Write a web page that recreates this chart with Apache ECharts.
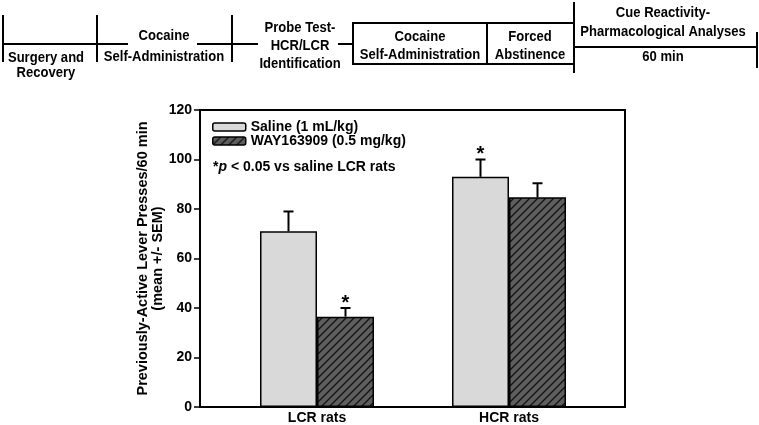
<!DOCTYPE html>
<html>
<head>
<meta charset="utf-8">
<script src="https://cdn.jsdelivr.net/npm/echarts@6/dist/echarts.min.js"></script>
<style>
  html, body { margin: 0; padding: 0; background: #fff; }
  #main { width: 759px; height: 425px; }
</style>
</head>
<body>
<div id="main"></div>
<script>
const groups = ['LCR rats', 'HCR rats']
const seriesNames = ['Saline (1 mL/kg)', 'WAY163909 (0.5 mg/kg)']
const salineMean = [71, 93]
const salineSem = [8, 7]
const wayMean = [36.5, 84.7]
const waySem = [3.5, 5.7]
// 1 = marked with * (p < 0.05 vs saline LCR)
const salineSig = [0, 1]
const waySig = [1, 0]
const yTicks = { min: 0, max: 120, interval: 20 }

const font = 'Liberation Sans, Arial, sans-serif'
const barW = 57

// hatch fill for the WAY bars
function hatch() {
  const c = document.createElement('canvas')
  c.width = 8
  c.height = 8
  const ctx = c.getContext('2d')
  ctx.fillStyle = '#5e5e5e'
  ctx.fillRect(0, 0, 8, 8)
  ctx.strokeStyle = '#151515'
  ctx.lineWidth = 1.4
  ctx.beginPath()
  ctx.moveTo(-1, 9); ctx.lineTo(9, -1)
  ctx.moveTo(-1, 1); ctx.lineTo(1, -1)
  ctx.moveTo(7, 9); ctx.lineTo(9, 7)
  ctx.stroke()
  return c
}

function errorSeries(mean, sem, sig, offset) {
  return {
    type: 'custom',
    xAxisIndex: 1,
    yAxisIndex: 1,
    z: 1,
    silent: true,
    data: mean.map((m, i) => [i, m, sem[i], sig[i]]),
    renderItem(params, api) {
      const base = api.coord([api.value(0), api.value(1)])
      const top = api.coord([api.value(0), api.value(1) + api.value(2)])
      const x = base[0] + offset
      const ls = { stroke: '#000', lineWidth: 2 }
      const children = [
        { type: 'line', shape: { x1: x, y1: base[1], x2: x, y2: top[1] }, style: ls },
        { type: 'line', shape: { x1: x - 5, y1: top[1], x2: x + 5, y2: top[1] }, style: ls }
      ]
      if (api.value(3)) {
        children.push({
          type: 'text',
          style: {
            x: x, y: top[1] - 5, text: '*', fill: '#000',
            font: 'bold 20px ' + font, align: 'center', verticalAlign: 'middle'
          }
        })
      }
      return { type: 'group', children }
    }
  }
}

// timeline across the top
function tl(x1, y1, x2, y2) {
  return { type: 'line', shape: { x1, y1, x2, y2 }, style: { stroke: '#000', lineWidth: 2 } }
}
function tt(x, y, text) {
  return {
    type: 'text', x, y, scaleX: 0.87,
    style: { text, fill: '#000', font: 'bold 15px ' + font, align: 'center', verticalAlign: 'middle' }
  }
}
const timeline = [
  tl(3, 44, 128, 44), tl(197, 44, 258, 44), tl(338, 44, 353, 44),
  tl(3, 15, 3, 62), tl(97, 15, 97, 62), tl(232, 15, 232, 62),
  { type: 'rect', shape: { x: 353, y: 23, width: 221, height: 41 }, style: { fill: 'none', stroke: '#000', lineWidth: 2 } },
  tl(487, 23, 487, 64),
  tl(574, 2, 574, 73), tl(574, 47, 757, 47), tl(757, 32, 757, 68),
  tt(46, 58, 'Surgery and'), tt(46, 73, 'Recovery'),
  tt(164, 36, 'Cocaine'), tt(164, 57, 'Self-Administration'),
  tt(300, 28, 'Probe Test-'), tt(300, 46, 'HCR/LCR'), tt(300, 64, 'Identification'),
  tt(420, 37, 'Cocaine'), tt(420, 55, 'Self-Administration'),
  tt(530, 37, 'Forced'), tt(530, 55, 'Abstinence'),
  tt(663, 13, 'Cue Reactivity-'), tt(663, 32, 'Pharmacological Analyses'), tt(663, 57, '60 min')
]

const chart = echarts.init(document.getElementById('main'))
const option = {
  animation: false,
  textStyle: { fontFamily: font },
  grid: [
    // frame + y axis
    { left: 200, right: 134, top: 110, bottom: 18, show: true, borderColor: '#000', borderWidth: 2, backgroundColor: 'transparent' },
    // bars
    { left: 221, right: 154, top: 110, bottom: 18 }
  ],
  legend: {
    data: seriesNames,
    orient: 'vertical',
    left: 207,
    top: 115,
    itemWidth: 33,
    itemHeight: 8,
    itemGap: 0,
    itemStyle: { borderColor: '#000', borderWidth: 1.5 },
    textStyle: { fontWeight: 'bold', fontSize: 14, color: '#000', lineHeight: 14 }
  },
  xAxis: [
    { type: 'category', gridIndex: 0, data: groups, show: false },
    {
      type: 'category', gridIndex: 1, data: groups,
      axisLine: { show: false }, axisTick: { show: false },
      axisLabel: { color: '#000', fontWeight: 'bold', fontSize: 14, margin: 4 }
    }
  ],
  yAxis: [
    {
      type: 'value', gridIndex: 0,
      min: yTicks.min, max: yTicks.max, interval: yTicks.interval,
      name: 'Previously-Active Lever Presses/60 min\n(mean +/- SEM)',
      nameLocation: 'middle',
      nameGap: 35,
      nameMoveOverlap: false,
      nameTextStyle: { color: '#000', fontWeight: 'bold', fontSize: 14.5, lineHeight: 15 },
      axisLine: { show: true, lineStyle: { color: '#000', width: 2 } },
      axisTick: { show: true, length: 6, lineStyle: { color: '#000', width: 1.5 } },
      axisLabel: { color: '#000', fontWeight: 'bold', fontSize: 14, margin: 8 },
      splitLine: { show: false }
    },
    { type: 'value', gridIndex: 1, min: yTicks.min, max: yTicks.max, show: false }
  ],
  graphic: timeline.concat([
    {
      type: 'text',
      style: {
        x: 213, y: 167,
        text: '{a|*}{b|p}{a| < 0.05 vs saline LCR rats}',
        verticalAlign: 'middle',
        rich: {
          a: { fontFamily: font, fontWeight: 'bold', fontSize: 14, fill: '#000' },
          b: { fontFamily: font, fontWeight: 'bold', fontStyle: 'italic', fontSize: 14, fill: '#000' }
        }
      }
    }
  ]),
  series: [
    {
      name: seriesNames[0], type: 'bar', xAxisIndex: 1, yAxisIndex: 1,
      barWidth: barW, barGap: '0%', z: 2,
      itemStyle: { color: '#d9d9d9', borderColor: '#000', borderWidth: 1.5 },
      data: salineMean
    },
    {
      name: seriesNames[1], type: 'bar', xAxisIndex: 1, yAxisIndex: 1,
      barWidth: barW, barGap: '0%', z: 2,
      itemStyle: { color: { image: hatch(), repeat: 'repeat' }, borderColor: '#000', borderWidth: 1.5 },
      data: wayMean
    },
    errorSeries(salineMean, salineSem, salineSig, -barW / 2),
    errorSeries(wayMean, waySem, waySig, barW / 2)
  ]
}
chart.setOption(option)
</script>
</body>
</html>
